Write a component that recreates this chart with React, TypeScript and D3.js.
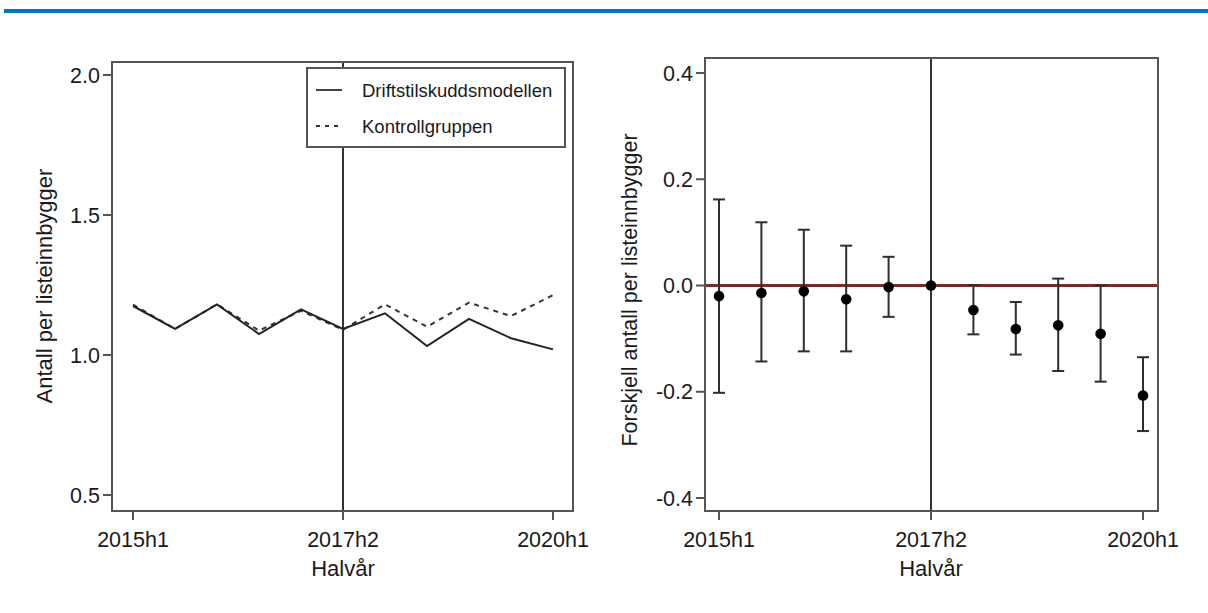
import React from "react";
import * as d3 from "d3";

const periods = ["2015h1", "2015h2", "2016h1", "2016h2", "2017h1", "2017h2", "2018h1", "2018h2", "2019h1", "2019h2", "2020h1"];
const xTicks = ["2015h1", "2017h2", "2020h1"];
const reformPeriod = "2017h2";

const driftstilskudd = [1.175, 1.093, 1.181, 1.075, 1.163, 1.093, 1.149, 1.032, 1.129, 1.06, 1.02];
const kontroll = [1.18, 1.093, 1.181, 1.087, 1.158, 1.09, 1.181, 1.101, 1.187, 1.139, 1.214];
const leftTicks = [0.5, 1.0, 1.5, 2.0];

const diff = [-0.02, -0.014, -0.011, -0.026, -0.003, 0, -0.046, -0.082, -0.075, -0.091, -0.207];
const ciLow = [-0.202, -0.143, -0.124, -0.124, -0.059, null, -0.092, -0.13, -0.161, -0.181, -0.274];
const ciHigh = [0.162, 0.119, 0.105, 0.075, 0.054, null, 0.001, -0.031, 0.013, 0.0, -0.135];
const rightTicks = [-0.4, -0.2, 0.0, 0.2, 0.4];

const font = "'Liberation Sans', Arial, sans-serif";

const App = () => {
    // left panel
    const box1 = { x0: 112, x1: 573, y0: 62, y1: 511 };
    const x1 = d3.scalePoint().domain(periods).range([133, 553]);
    const y1 = d3.scaleLinear().domain([0.5, 2.0]).range([495, 75]);
    const line1 = d3.line<number>().x((d, i) => x1(periods[i])!).y(d => y1(d));

    // right panel
    const box2 = { x0: 705, x1: 1158, y0: 58, y1: 511 };
    const x2 = d3.scalePoint().domain(periods).range([719, 1143]);
    const y2 = d3.scaleLinear().domain([-0.4, 0.4]).range([498, 73]);

    const axisColor = "#555";
    const textColor = "#1a1a1a";

    return (
        <svg width={1208} height={613} style={{ position: "absolute", left: 0, top: 0, background: "#fff" }} fontFamily={font}>
            <rect x={4} y={9} width={1204} height={4} fill="#0078c1" />

            {/* left panel */}
            <line x1={x1(reformPeriod)} x2={x1(reformPeriod)} y1={box1.y0} y2={box1.y1} stroke="#333" strokeWidth={2} />
            <path d={line1(kontroll)!} fill="none" stroke="#333" strokeWidth={2} strokeDasharray="5,5" />
            <path d={line1(driftstilskudd)!} fill="none" stroke="#222" strokeWidth={2} />
            <rect x={box1.x0} y={box1.y0} width={box1.x1 - box1.x0} height={box1.y1 - box1.y0} fill="none" stroke={axisColor} strokeWidth={2} />
            {leftTicks.map(t => (
                <g key={t}>
                    <line x1={box1.x0 - 9} x2={box1.x0} y1={y1(t)} y2={y1(t)} stroke={axisColor} strokeWidth={2} />
                    <text x={box1.x0 - 12} y={y1(t)} dy="0.35em" textAnchor="end" fontSize={21.5} fill={textColor}>{t.toFixed(1)}</text>
                </g>
            ))}
            {xTicks.map(t => (
                <g key={t}>
                    <line x1={x1(t)} x2={x1(t)} y1={box1.y1} y2={box1.y1 + 9} stroke={axisColor} strokeWidth={2} />
                    <text x={x1(t)} y={547} textAnchor="middle" fontSize={21.5} fill={textColor}>{t}</text>
                </g>
            ))}
            <text x={x1(reformPeriod)} y={576} textAnchor="middle" fontSize={22} fill={textColor}>Halvår</text>
            <text transform="translate(52,286) rotate(-90)" textAnchor="middle" fontSize={22} fill={textColor}>Antall per listeinnbygger</text>

            {/* legend */}
            <rect x={307} y={68} width={258} height={79} fill="#fff" stroke={axisColor} strokeWidth={2} />
            <line x1={316} x2={342} y1={90} y2={90} stroke="#444" strokeWidth={2} />
            <text x={362} y={97} fontSize={18.5} fill={textColor}>Driftstilskuddsmodellen</text>
            <line x1={316} x2={342} y1={126} y2={126} stroke="#333" strokeWidth={2} strokeDasharray="4,5" />
            <text x={362} y={133} fontSize={18.5} fill={textColor}>Kontrollgruppen</text>

            {/* right panel */}
            <line x1={x2(reformPeriod)} x2={x2(reformPeriod)} y1={box2.y0} y2={box2.y1} stroke="#333" strokeWidth={2} />
            <line x1={box2.x0} x2={box2.x1} y1={y2(0)} y2={y2(0)} stroke="#7a2a2a" strokeWidth={3} />
            {periods.map((p, i) => {
                const lo = ciLow[i];
                const hi = ciHigh[i];
                const cx = x2(p)!;
                return (
                    <g key={p}>
                        {lo !== null && hi !== null && (
                            <g stroke="#2e2e2e" strokeWidth={2}>
                                <line x1={cx} x2={cx} y1={y2(lo)} y2={y2(hi)} />
                                <line x1={cx - 6} x2={cx + 6} y1={y2(lo)} y2={y2(lo)} />
                                <line x1={cx - 6} x2={cx + 6} y1={y2(hi)} y2={y2(hi)} />
                            </g>
                        )}
                        <circle cx={cx} cy={y2(diff[i])} r={5.3} fill="#000" />
                    </g>
                );
            })}
            <rect x={box2.x0} y={box2.y0} width={box2.x1 - box2.x0} height={box2.y1 - box2.y0} fill="none" stroke={axisColor} strokeWidth={2} />
            {rightTicks.map(t => (
                <g key={t}>
                    <line x1={box2.x0 - 9} x2={box2.x0} y1={y2(t)} y2={y2(t)} stroke={axisColor} strokeWidth={2} />
                    <text x={box2.x0 - 12} y={y2(t)} dy="0.35em" textAnchor="end" fontSize={21.5} fill={textColor}>{t.toFixed(1)}</text>
                </g>
            ))}
            {xTicks.map(t => (
                <g key={t}>
                    <line x1={x2(t)} x2={x2(t)} y1={box2.y1} y2={box2.y1 + 9} stroke={axisColor} strokeWidth={2} />
                    <text x={x2(t)} y={547} textAnchor="middle" fontSize={21.5} fill={textColor}>{t}</text>
                </g>
            ))}
            <text x={x2(reformPeriod)} y={576} textAnchor="middle" fontSize={22} fill={textColor}>Halvår</text>
            <text transform="translate(637,290) rotate(-90)" textAnchor="middle" fontSize={21.5} fill={textColor}>Forskjell antall per listeinnbygger</text>
        </svg>
    );
};

export default App;
